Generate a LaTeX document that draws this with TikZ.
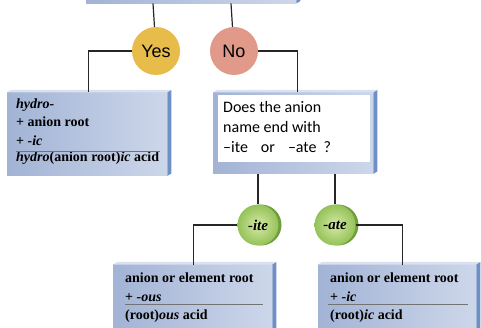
\documentclass[tikz,border=0pt]{standalone}
\usepackage{fontspec}
\setmainfont{Liberation Serif}
\newfontfamily\calibrifont{Carlito}
\newfontfamily\arialfont{Liberation Sans}
\usepackage{tikz}
\usetikzlibrary{positioning}
\definecolor{boxleft}{HTML}{A2B3D5}
\definecolor{boxright}{HTML}{CDD7EA}
\definecolor{boxside}{HTML}{6F90C5}
\definecolor{boxtop}{HTML}{D9E1F0}
\definecolor{yesfill}{HTML}{E8BC4B}
\definecolor{nofill}{HTML}{E19A89}
\definecolor{greenin}{HTML}{D6E9A6}
\definecolor{greenout}{HTML}{94C258}
\definecolor{greenside}{HTML}{6E9E3C}
\tikzset{
  namebox/.style={rectangle, inner sep=0pt, left color=boxleft, right color=boxright},
  choice/.style={circle, inner sep=0pt, minimum size=48pt, font=\arialfont\fontsize{18}{20}\selectfont},
  ending/.style={circle, inner sep=0pt, minimum size=41pt, inner color=greenin, outer color=greenout, font=\bfseries\itshape\fontsize{15}{17}\selectfont},
  boxtxt/.style={anchor=base west, inner sep=0pt, font=\bfseries\fontsize{14}{18}\selectfont},
  link/.style={line width=1.2pt, black!85},
  underrule/.style={line width=0.9pt, black!55}
}

\begin{document}
\begin{tikzpicture}[x=1pt, y=-1pt]
  \useasboundingbox (0,0) rectangle (481,328);

  % Define points
  \coordinate (t1) at (153,3.5);
  \coordinate (t2) at (231,3.5);
  \coordinate (itec) at (258,225);
  \coordinate (atec) at (335,225);

  % Draw boxes
  \node[namebox, minimum width=210pt, minimum height=30pt, anchor=south west] (top) at (86,3.5) {};
  \node[namebox, minimum width=160pt, minimum height=83pt, anchor=north west] (lbox) at (7,92.5) {};
  \node[namebox, minimum width=160pt, minimum height=81pt, anchor=north west] (qbox) at (213,92.5) {};
  \node[namebox, minimum width=159pt, minimum height=80pt, anchor=north west] (lrbox) at (113,264.5) {};
  \node[namebox, minimum width=158pt, minimum height=80pt, anchor=north west] (rrbox) at (318,264.5) {};

  % Draw bevels
  \foreach \b in {top,lbox,qbox,lrbox,rrbox} {
    \fill[boxtop] (\b.north west) -- ([shift={(4pt,2.5pt)}]\b.north west)
      -- ([shift={(4pt,2.5pt)}]\b.north east) -- (\b.north east) -- cycle;
    \fill[boxside] (\b.north east) -- ([shift={(4pt,2.5pt)}]\b.north east)
      -- ([shift={(4pt,2.5pt)}]\b.south east) -- (\b.south east) -- cycle;
  }

  % Question
  \node[fill=white, minimum width=152pt, minimum height=67pt, inner sep=0pt, anchor=north west] (qwhite) at (218,95) {};
  \node[anchor=north west, inner sep=0pt, align=left, font=\calibrifont\fontsize{16}{20}\selectfont] (qtext) at (223,101)
    {Does the anion\\name end with\\–ite\hspace{13pt}or\hspace{13pt}–ate\hspace{7pt}?};

  % Draw circles
  \node[choice, fill=yesfill] (yes) at (156,51) {Yes};
  \node[choice, fill=nofill] (no) at (234,51) {No};
  \fill[greenside] ([xshift=3pt]itec) circle (20.5pt);
  \fill[greenside] ([xshift=3pt]atec) circle (20.5pt);
  \node[ending] (ite) at (itec) {-ite};
  \node[ending] (ate) at (atec) {-ate};

  % Connectors
  \draw[link] (t1) -- (yes);
  \draw[link] (t2) -- (no);
  \draw[link] (yes.west) -| ([xshift=1pt]lbox.north);
  \draw[link] (no.east) -| ([xshift=4pt]qbox.north);
  \draw[link] (qbox.south -| ite.north) -- (ite.north);
  \draw[link] (qbox.south -| ate.north) -- (ate.north);
  \draw[link] (ite.west) -| ([xshift=0.5pt]lrbox.north);
  \draw[link] (ate.east) -| ([xshift=5pt]rrbox.north);

  % Labels
  \node[boxtxt] (h1) at (16,108.5) {\textit{hydro-}};
  \node[boxtxt] (h2) at (16,127) {+ anion root};
  \node[boxtxt] (h3) at (16,146) {+ \textit{-ic}};
  \node[boxtxt] (h4) at (16,162) {\textit{hydro}(anion root)\textit{ic} acid};
  \coordinate (hr1) at (16,151);
  \coordinate (hr2) at (160,151);
  \draw[underrule] (hr1) -- (hr2);

  \node[boxtxt] (o1) at (125,282) {anion or element root};
  \node[boxtxt] (o2) at (125,301) {+ \textit{-ous}};
  \node[boxtxt] (o3) at (125,319) {(root)\textit{ous} acid};
  \coordinate (or1) at (125,304.5);
  \coordinate (or2) at (263,304.5);
  \draw[underrule] (or1) -- (or2);

  \node[boxtxt] (i1) at (330,282) {anion or element root};
  \node[boxtxt] (i2) at (330,301) {+ \textit{-ic}};
  \node[boxtxt] (i3) at (330,319) {(root)\textit{ic} acid};
  \coordinate (ir1) at (328,304.5);
  \coordinate (ir2) at (468,304.5);
  \draw[underrule] (ir1) -- (ir2);

\end{tikzpicture}
\end{document}
